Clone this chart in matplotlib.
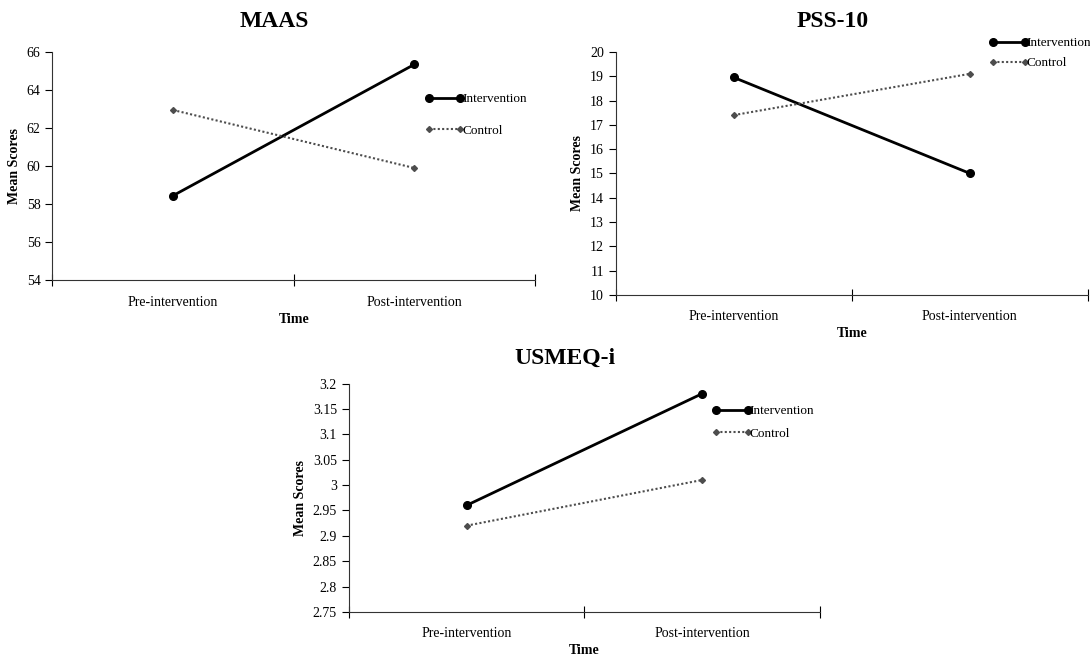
import matplotlib
matplotlib.use("Agg")
import matplotlib.pyplot as plt

plt.rcParams['font.family'] = ['Liberation Serif', 'DejaVu Serif']

times = ["Pre-intervention", "Post-intervention"]
groups = ["Intervention", "Control"]

maas_int = [58.45, 65.35]
maas_ctl = [62.95, 59.9]
pss_int = [18.95, 15.0]
pss_ctl = [17.4, 19.1]
usmeq_int = [2.96, 3.18]
usmeq_ctl = [2.92, 3.01]

maas_ticks = [54, 56, 58, 60, 62, 64, 66]
pss_ticks = list(range(10, 21))
usmeq_ticks = [2.75, 2.8, 2.85, 2.9, 2.95, 3.0, 3.05, 3.1, 3.15, 3.2]
usmeq_labels = ["2.75", "2.8", "2.85", "2.9", "2.95", "3", "3.05", "3.1", "3.15", "3.2"]

fig = plt.figure(figsize=(10.9, 6.58), dpi=100)


def panel(rect, title, yint, yctl, yticks, ylabels, leg_anchor, leg_space, tpad):
    ax = fig.add_axes(rect)
    x = [0.5, 1.5]
    ax.plot(x, yint, color="black", lw=2, marker="o", ms=5.5, label=groups[0])
    ax.plot(x, yctl, color="#4d4d4d", lw=1.5, ls=(0, (1, 1.1)), marker="D", ms=3,
            label=groups[1])
    ax.set_xlim(0, 2)
    ax.set_ylim(yticks[0], yticks[-1])
    ax.set_yticks(yticks)
    ax.set_yticklabels(ylabels, fontsize=10)
    ax.set_xticks([0, 1, 2])
    ax.set_xticklabels([])
    ax.set_xticks(x, minor=True)
    ax.set_xticklabels(times, minor=True, fontsize=10)
    ax.tick_params(axis="x", which="minor", length=0, pad=11)
    ax.tick_params(axis="x", which="major", direction="inout", length=8)
    ax.tick_params(axis="y", direction="out", length=5)
    for s in ["top", "right"]:
        ax.spines[s].set_visible(False)
    ax.spines["left"].set_color("#333333")
    ax.spines["bottom"].set_color("#333333")
    ax.set_xlabel("Time", fontsize=10, fontweight="bold", labelpad=3)
    ax.set_ylabel("Mean Scores", fontsize=10, fontweight="bold", labelpad=4)
    ax.set_title(title, fontsize=17, fontweight="bold", pad=tpad, x=0.46)
    ax.legend(loc="center left", bbox_to_anchor=leg_anchor, frameon=False, fontsize=9.5,
              handlelength=3.0, handletextpad=-0.15, labelspacing=leg_space, numpoints=2,
              borderaxespad=0)
    return ax


panel([0.048, 0.574, 0.443, 0.347], "MAAS", maas_int, maas_ctl, maas_ticks,
      [str(t) for t in maas_ticks], (0.76, 0.725), 1.45, 18)
panel([0.565, 0.552, 0.433, 0.369], "PSS-10", pss_int, pss_ctl, pss_ticks,
      [str(t) for t in pss_ticks], (0.78, 0.995), 0.6, 18)
panel([0.320, 0.070, 0.432, 0.347], "USMEQ-i", usmeq_int, usmeq_ctl, usmeq_ticks,
      usmeq_labels, (0.76, 0.83), 0.75, 14)

fig.savefig("out.png", dpi=100)
